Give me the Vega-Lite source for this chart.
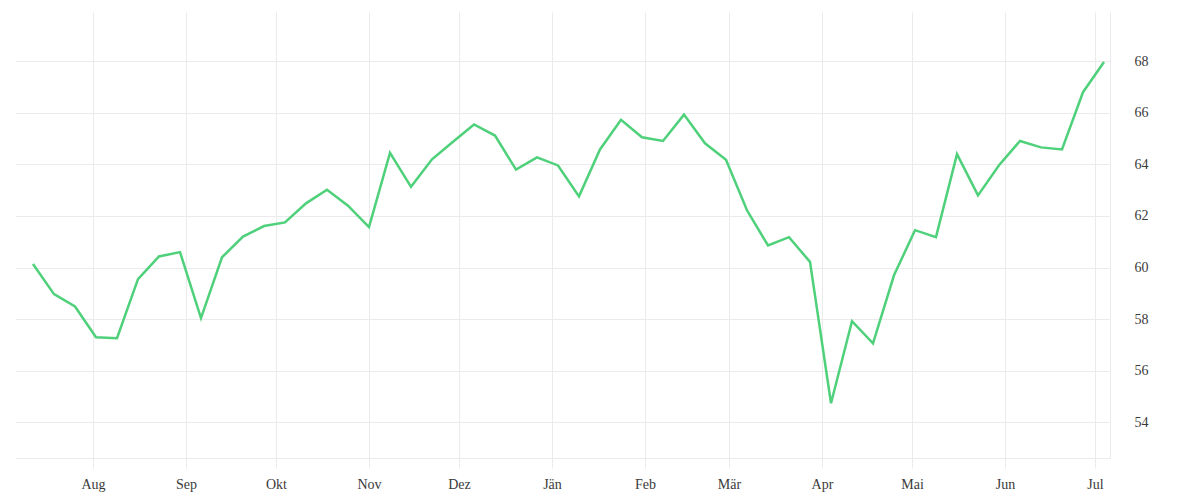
{
  "$schema": "https://vega.github.io/schema/vega-lite/v6.json",
  "description": "Weekly values, July to July, German month labels.",
  "autosize": {"type": "none"},
  "padding": {"left": 15, "top": 12, "right": 90, "bottom": 42},
  "width": 1095,
  "height": 446,
  "background": "white",
  "data": {
    "values": [
      {"date": "2018-07-12", "value": 60.14},
      {"date": "2018-07-19", "value": 58.97},
      {"date": "2018-07-26", "value": 58.49},
      {"date": "2018-08-02", "value": 57.3},
      {"date": "2018-08-09", "value": 57.26},
      {"date": "2018-08-16", "value": 59.55},
      {"date": "2018-08-23", "value": 60.43},
      {"date": "2018-08-30", "value": 60.6},
      {"date": "2018-09-06", "value": 58.04},
      {"date": "2018-09-13", "value": 60.4},
      {"date": "2018-09-20", "value": 61.2},
      {"date": "2018-09-27", "value": 61.61},
      {"date": "2018-10-04", "value": 61.75},
      {"date": "2018-10-11", "value": 62.49},
      {"date": "2018-10-18", "value": 63.02},
      {"date": "2018-10-25", "value": 62.4},
      {"date": "2018-11-01", "value": 61.57},
      {"date": "2018-11-08", "value": 64.45},
      {"date": "2018-11-15", "value": 63.13},
      {"date": "2018-11-22", "value": 64.2},
      {"date": "2018-11-29", "value": 64.88},
      {"date": "2018-12-06", "value": 65.55},
      {"date": "2018-12-13", "value": 65.12},
      {"date": "2018-12-20", "value": 63.8},
      {"date": "2018-12-27", "value": 64.27},
      {"date": "2019-01-03", "value": 63.96},
      {"date": "2019-01-10", "value": 62.76},
      {"date": "2019-01-17", "value": 64.58},
      {"date": "2019-01-24", "value": 65.73},
      {"date": "2019-01-31", "value": 65.05},
      {"date": "2019-02-07", "value": 64.91},
      {"date": "2019-02-14", "value": 65.93},
      {"date": "2019-02-21", "value": 64.82},
      {"date": "2019-02-28", "value": 64.18},
      {"date": "2019-03-07", "value": 62.22},
      {"date": "2019-03-14", "value": 60.86},
      {"date": "2019-03-21", "value": 61.18},
      {"date": "2019-03-28", "value": 60.22},
      {"date": "2019-04-04", "value": 54.74},
      {"date": "2019-04-11", "value": 57.92},
      {"date": "2019-04-18", "value": 57.06},
      {"date": "2019-04-25", "value": 59.7},
      {"date": "2019-05-02", "value": 61.45},
      {"date": "2019-05-09", "value": 61.18},
      {"date": "2019-05-16", "value": 64.4},
      {"date": "2019-05-23", "value": 62.8},
      {"date": "2019-05-30", "value": 63.97},
      {"date": "2019-06-06", "value": 64.91},
      {"date": "2019-06-13", "value": 64.66},
      {"date": "2019-06-20", "value": 64.58},
      {"date": "2019-06-27", "value": 66.8},
      {"date": "2019-07-04", "value": 67.97}
    ]
  },
  "mark": {"type": "line", "color": "#4fd07a", "strokeWidth": 2.5, "strokeJoin": "miter"},
  "encoding": {
    "x": {
      "field": "date",
      "type": "temporal",
      "title": null,
      "scale": {
        "type": "utc",
        "domain": [
          {"year": 2018, "month": 7, "date": 6, "utc": true},
          {"year": 2019, "month": 7, "date": 6, "utc": true}
        ],
        "nice": false
      },
      "axis": {
        "tickCount": {"interval": "month", "step": 1},
        "labelExpr": "['Jän','Feb','Mär','Apr','Mai','Jun','Jul','Aug','Sep','Okt','Nov','Dez'][utcmonth(datum.value)]",
        "tickSize": 10,
        "labelPadding": 9,
        "labelBaseline": "top"
      }
    },
    "y": {
      "field": "value",
      "type": "quantitative",
      "title": null,
      "scale": {"domain": [52.615, 69.91], "nice": false, "zero": false},
      "axis": {
        "orient": "right",
        "values": [54, 56, 58, 60, 62, 64, 66, 68],
        "ticks": false,
        "labelPadding": 24
      }
    }
  },
  "config": {
    "view": {"stroke": null},
    "axis": {
      "grid": true,
      "gridColor": "#ebebeb",
      "gridWidth": 1,
      "domainColor": "#ebebeb",
      "tickColor": "#ebebeb",
      "labelFont": "Liberation Serif",
      "labelFontSize": 14,
      "labelColor": "#3a3a3a"
    }
  }
}
